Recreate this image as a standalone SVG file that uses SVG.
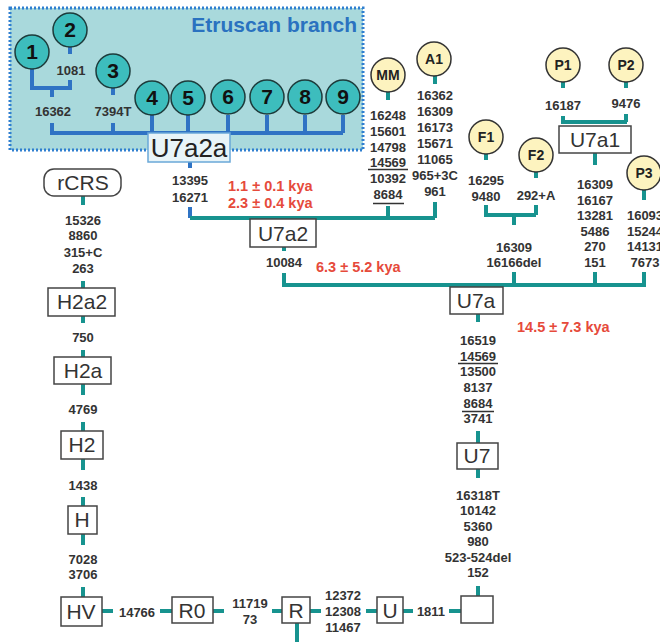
<svg xmlns="http://www.w3.org/2000/svg" width="660" height="642" viewBox="0 0 660 642">
<style>
.n{font:bold 13px "Liberation Sans",Arial,sans-serif;fill:#333;text-anchor:middle}
.bx{fill:#fff;stroke:#444;stroke-width:1.5}
.bt{font:21px "Liberation Sans",Arial,sans-serif;fill:#333;text-anchor:middle}
.c{fill:#3dbdbd;stroke:#1d3b3b;stroke-width:1.5}
.ct{font:bold 21px "Liberation Sans",Arial,sans-serif;fill:#111;text-anchor:middle}
.y{fill:#fdf3bf;stroke:#333;stroke-width:1.5}
.yt{font:bold 14px "Liberation Sans",Arial,sans-serif;fill:#222;text-anchor:middle}
.t{stroke:#17938f;stroke-width:4;fill:none}
.bl{stroke:#2f73c4;stroke-width:4;fill:none}
.r{font:bold 14.5px "Liberation Sans",Arial,sans-serif;fill:#e64a3b}
.u{stroke:#333;stroke-width:1.5}
</style>
<rect x="10" y="8" width="353" height="142" fill="#a9d9dc" stroke="#2f7fd0" stroke-width="3" stroke-dasharray="2 2"/>
<text x="357" y="32" text-anchor="end" style="font:bold 21px 'Liberation Sans',Arial,sans-serif;fill:#2a72c0">Etruscan branch</text>
<g id="connectors">
<path class="bl" d="M32 69V88H72M70 47V54M70 80V88M52 88V97M113 86V95M52 123V133H343M113 123V133M152 115V133M188 115V133M228 115V133M267 115V133M305 115V133M343 115V133M190 162V168M190 207V218"/>
<path class="t" d="M190 218H435M388 91V100M388 206V218M435 75V84M435 202V218M284 247V251M284 273V285H646M486 154V160M486 205V215H536M536 172V178M536 205V215M514 215V225M514 272V285M563 82V88M563 116V122H627M626 82V88M626 114V122M595 153V165M595 272V285M644 190V200M644 272V285M478 314V322M478 431V443M478 469V478M478 586V596M83 196V205M83 281V288M83 316V323M83 350V357M83 384V395M83 422V431M83 459V470M83 497V506M83 534V545M83 587V597M102 611H113M160 611H172M213 611H224M272 611H282M310 611H321M366 611H377M403 611H413M449 611H461M297 623V642"/>
</g>
<g id="u7a2a"><rect x="148" y="133" width="82" height="29" fill="#e8f4f8" stroke="#6aa8d8" stroke-width="1.5"/><text x="189" y="157" text-anchor="middle" style="font:26px 'Liberation Sans',Arial,sans-serif;fill:#222">U7a2a</text></g>
<g id="e1"><circle class="c" cx="32" cy="52" r="17"/><text class="ct" x="32" y="59">1</text></g>
<g id="e2"><circle class="c" cx="70" cy="30" r="17"/><text class="ct" x="70" y="37">2</text></g>
<g id="e3"><circle class="c" cx="113" cy="71" r="17"/><text class="ct" x="113" y="78">3</text></g>
<g id="e4"><circle class="c" cx="152" cy="98" r="17"/><text class="ct" x="152" y="105">4</text></g>
<g id="e5"><circle class="c" cx="188" cy="98" r="17"/><text class="ct" x="188" y="105">5</text></g>
<g id="e6"><circle class="c" cx="228" cy="97" r="17"/><text class="ct" x="228" y="104">6</text></g>
<g id="e7"><circle class="c" cx="267" cy="97" r="17"/><text class="ct" x="267" y="104">7</text></g>
<g id="e8"><circle class="c" cx="305" cy="97" r="17"/><text class="ct" x="305" y="104">8</text></g>
<g id="e9"><circle class="c" cx="343" cy="97" r="17"/><text class="ct" x="343" y="104">9</text></g>
<g id="etr-labels">
<text class="n" x="71" y="75">1081</text>
<text class="n" x="53" y="116">16362</text>
<text class="n" x="113" y="116">7394T</text>
<text class="n" x="190" y="185">13395</text>
<text class="n" x="190" y="202">16271</text>
<text class="r" x="228" y="191">1.1 ± 0.1 kya</text>
<text class="r" x="228" y="208">2.3 ± 0.4 kya</text>
</g>
<g id="mm"><circle class="y" cx="388" cy="75" r="17"/><text class="yt" x="388" y="80">MM</text>
<text class="n" x="388" y="120">16248</text><text class="n" x="388" y="136">15601</text><text class="n" x="388" y="152">14798</text><text class="n" x="388" y="167">14569</text><text class="n" x="388" y="183">10392</text><text class="n" x="388" y="199">8684</text>
<path class="u" d="M368 169.5H408M373 203.5H404"/></g>
<g id="a1"><circle class="y" cx="434" cy="59" r="17"/><text class="yt" x="434" y="64">A1</text>
<text class="n" x="435" y="100">16362</text><text class="n" x="435" y="116">16309</text><text class="n" x="435" y="132">16173</text><text class="n" x="435" y="148">15671</text><text class="n" x="435" y="164">11065</text><text class="n" x="435" y="180">965+3C</text><text class="n" x="435" y="196">961</text></g>
<g id="u7a2"><rect class="bx" x="250" y="219" width="66" height="28"/><text class="bt" x="283" y="241">U7a2</text>
<text class="n" x="284" y="267">10084</text><text class="r" x="316" y="272">6.3 ± 5.2 kya</text></g>
<g id="f1"><circle class="y" cx="486" cy="137" r="17"/><text class="yt" x="486" y="142">F1</text>
<text class="n" x="486" y="185">16295</text><text class="n" x="486" y="201">9480</text></g>
<g id="f2"><circle class="y" cx="536" cy="155" r="17"/><text class="yt" x="536" y="160">F2</text>
<text class="n" x="536" y="200">292+A</text>
<text class="n" x="514" y="252">16309</text><text class="n" x="514" y="267">16166del</text></g>
<g id="p1"><circle class="y" cx="563" cy="65" r="17"/><text class="yt" x="563" y="70">P1</text><text class="n" x="563" y="110">16187</text></g>
<g id="p2"><circle class="y" cx="626" cy="65" r="17"/><text class="yt" x="626" y="70">P2</text><text class="n" x="626" y="108">9476</text></g>
<g id="u7a1"><rect class="bx" x="559" y="126" width="72" height="27"/><text class="bt" x="595" y="147">U7a1</text>
<text class="n" x="595" y="189">16309</text><text class="n" x="595" y="205">16167</text><text class="n" x="595" y="220">13281</text><text class="n" x="595" y="236">5486</text><text class="n" x="595" y="251">270</text><text class="n" x="595" y="267">151</text></g>
<g id="p3"><circle class="y" cx="644" cy="173" r="17"/><text class="yt" x="644" y="178">P3</text>
<text class="n" x="645" y="220">16093</text><text class="n" x="645" y="236">15244</text><text class="n" x="645" y="251">14131</text><text class="n" x="645" y="267">7673</text></g>
<g id="u7a"><rect class="bx" x="450" y="287" width="53" height="27"/><text class="bt" x="476" y="308">U7a</text>
<text class="r" x="517" y="332">14.5 ± 7.3 kya</text>
<text class="n" x="478" y="345">16519</text><text class="n" x="478" y="361">14569</text><text class="n" x="478" y="376">13500</text><text class="n" x="478" y="392">8137</text><text class="n" x="478" y="408">8684</text><text class="n" x="478" y="423">3741</text>
<path class="u" d="M458 363.5H498M462 411.5H494"/></g>
<g id="u7"><rect class="bx" x="457" y="443" width="41" height="26"/><text class="bt" x="477" y="463">U7</text>
<text class="n" x="478" y="500">16318T</text><text class="n" x="478" y="515">10142</text><text class="n" x="478" y="531">5360</text><text class="n" x="478" y="546">980</text><text class="n" x="478" y="562">523-524del</text><text class="n" x="478" y="577">152</text></g>
<g id="blank"><rect class="bx" x="461" y="596" width="32" height="27"/></g>
<g id="rcrs"><rect class="bx" x="44" y="169" width="77" height="27" rx="10"/><text class="bt" x="83" y="190">rCRS</text>
<text class="n" x="83" y="225">15326</text><text class="n" x="83" y="240">8860</text><text class="n" x="83" y="257">315+C</text><text class="n" x="83" y="273">263</text></g>
<g id="h2a2"><rect class="bx" x="48" y="288" width="67" height="28"/><text class="bt" x="82" y="309">H2a2</text><text class="n" x="83" y="342">750</text></g>
<g id="h2a"><rect class="bx" x="54" y="357" width="57" height="27"/><text class="bt" x="83" y="378">H2a</text><text class="n" x="83" y="414">4769</text></g>
<g id="h2"><rect class="bx" x="61" y="431" width="42" height="28"/><text class="bt" x="82" y="452">H2</text><text class="n" x="83" y="490">1438</text></g>
<g id="h"><rect class="bx" x="68" y="506" width="29" height="28"/><text class="bt" x="82" y="527">H</text><text class="n" x="83" y="564">7028</text><text class="n" x="83" y="579">3706</text></g>
<g id="hv"><rect class="bx" x="61" y="597" width="41" height="29"/><text class="bt" x="81" y="619">HV</text><text class="n" x="137" y="617">14766</text></g>
<g id="r0"><rect class="bx" x="172" y="597" width="41" height="26"/><text class="bt" x="192" y="618">R0</text><text class="n" x="250" y="608">11719</text><text class="n" x="250" y="624">73</text></g>
<g id="r"><rect class="bx" x="282" y="597" width="28" height="26"/><text class="bt" x="296" y="618">R</text><text class="n" x="343" y="600">12372</text><text class="n" x="343" y="616">12308</text><text class="n" x="343" y="632">11467</text></g>
<g id="u"><rect class="bx" x="377" y="597" width="26" height="26"/><text class="bt" x="390" y="618">U</text><text class="n" x="431" y="616">1811</text></g>
</svg>
